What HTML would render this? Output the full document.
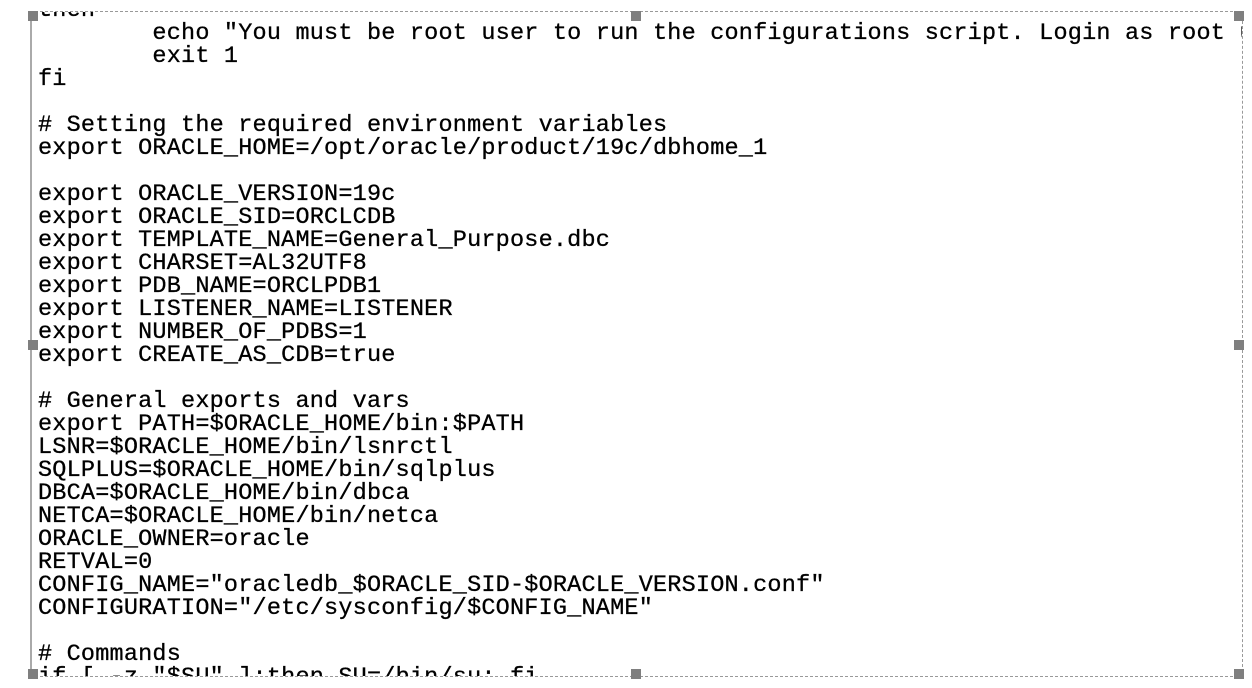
<!DOCTYPE html>
<html><head><meta charset="utf-8"><style>
html,body{margin:0;padding:0;background:#fff;width:1252px;height:688px;overflow:hidden;position:relative}
.box{position:absolute;left:30px;top:11px;width:1213px;height:666px;border:1px dashed #999;border-left:2px solid #aaa;box-sizing:border-box;overflow:hidden}
pre{position:absolute;left:6px;top:-13px;margin:0;font-family:"Liberation Mono",monospace;font-size:23.5px;letter-spacing:0.2px;line-height:23px;color:#000;white-space:pre;-webkit-text-stroke:0.3px #000}
.h{position:absolute;width:10px;height:10px;background:#7f7f7f}
</style></head><body>
<div class="box"><pre>then
        echo "You must be root user to run the configurations script. Login as root user and try again."
        exit 1
fi

# Setting the required environment variables
export ORACLE_HOME=/opt/oracle/product/19c/dbhome_1

export ORACLE_VERSION=19c
export ORACLE_SID=ORCLCDB
export TEMPLATE_NAME=General_Purpose.dbc
export CHARSET=AL32UTF8
export PDB_NAME=ORCLPDB1
export LISTENER_NAME=LISTENER
export NUMBER_OF_PDBS=1
export CREATE_AS_CDB=true

# General exports and vars
export PATH=$ORACLE_HOME/bin:$PATH
LSNR=$ORACLE_HOME/bin/lsnrctl
SQLPLUS=$ORACLE_HOME/bin/sqlplus
DBCA=$ORACLE_HOME/bin/dbca
NETCA=$ORACLE_HOME/bin/netca
ORACLE_OWNER=oracle
RETVAL=0
CONFIG_NAME="oracledb_$ORACLE_SID-$ORACLE_VERSION.conf"
CONFIGURATION="/etc/sysconfig/$CONFIG_NAME"

# Commands
if [ -z "$SU" ];then SU=/bin/su; fi</pre></div>
<div class="h" style="left:28px;top:11px"></div>
<div class="h" style="left:631px;top:11px"></div>
<div class="h" style="left:1234px;top:11px"></div>
<div class="h" style="left:28px;top:340px"></div>
<div class="h" style="left:1234px;top:340px"></div>
<div class="h" style="left:28px;top:669px"></div>
<div class="h" style="left:631px;top:669px"></div>
<div class="h" style="left:1234px;top:669px"></div>
</body></html>
